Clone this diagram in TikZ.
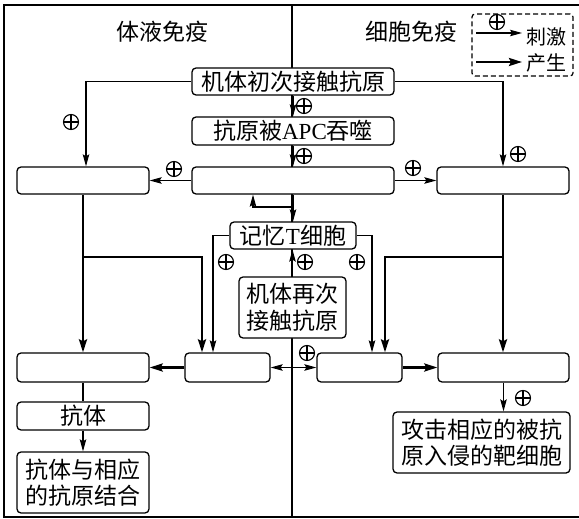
\documentclass[tikz,border=0pt]{standalone}
\usepackage{fontspec}
\setmainfont{Liberation Serif}
\newfontfamily\cjk{Noto Sans CJK SC}
\usetikzlibrary{arrows.meta}
\begin{document}
\begin{tikzpicture}[x=1pt,y=-1pt,
  box/.style={draw, line width=1.3pt, rounded corners=4pt, fill=white, inner sep=0pt,
    font=\fontsize{23}{26.5}\selectfont\cjk, align=center},
  stim/.style={line width=1.1pt, -{Stealth[length=12pt,width=6.5pt,inset=2pt]}},
  prod/.style={line width=2.4pt, -{Stealth[length=13pt,width=8pt,inset=2pt]}},
  plain/.style={line width=1.1pt},
  plus/.style={circle, draw, line width=1.1pt, minimum size=15pt, inner sep=0pt,
    path picture={\draw[line width=1.1pt] (path picture bounding box.north) -- (path picture bounding box.south)
      (path picture bounding box.west) -- (path picture bounding box.east);}},
  ttl/.style={font=\fontsize{23}{27}\selectfont\cjk, inner sep=0pt},
  lgt/.style={font=\fontsize{20}{24}\selectfont\cjk, inner sep=0pt},
]
\useasboundingbox (0,0) rectangle (579,519);
% frame and divider
\draw[line width=1.3pt] (579,5) -- (4,5) -- (4,517) -- (579,517);
\draw[line width=1.1pt] (292,5) -- (292,517);

% titles
\node[ttl] (t1) at (162,32) {体液免疫};
\node[ttl] (t2) at (411,32) {细胞免疫};

% legend
\node[draw, dashed, dash pattern=on 5pt off 3pt, line width=1.2pt, rounded corners=3pt,
  minimum width=101pt, minimum height=62pt, inner sep=0pt] (legend) at (522.5,45) {};
\coordinate (l1a) at (476,33); \coordinate (l1b) at (522,33);
\coordinate (l2a) at (476,62); \coordinate (l2b) at (522,62);
\draw[stim] (l1a) -- (l1b);
\node[plus] (lp) at (497,22) {};
\draw[prod] (l2a) -- (l2b);
\node[lgt] (lt1) at (546,37) {刺激};
\node[lgt] (lt2) at (546,63) {产生};

% boxes
\node[box, minimum width=202pt, minimum height=27pt] (init) at (293,81.5) {机体初次接触抗原};
\node[box, minimum width=202pt, minimum height=28pt] (apc) at (293,131) {抗原被{\rmfamily APC}吞噬};
\node[box, minimum width=202pt, minimum height=27pt] (tc) at (293,180.5) {};
\node[box, minimum width=132pt, minimum height=27pt] (bc) at (83,180.5) {};
\node[box, minimum width=132pt, minimum height=27pt] (rc) at (503,180.5) {};
\node[box, minimum width=126pt, minimum height=27pt] (memt) at (293,235.5) {记忆{\rmfamily T}细胞};
\node[box, minimum width=107pt, minimum height=61pt] (again) at (292.5,307.5) {机体再次\\接触抗原};
\node[box, minimum width=132pt, minimum height=29pt] (plasma) at (83,367.5) {};
\node[box, minimum width=85pt, minimum height=29pt] (memb) at (227.5,367.5) {};
\node[box, minimum width=85pt, minimum height=29pt] (memtc) at (359.5,367.5) {};
\node[box, minimum width=131pt, minimum height=29pt] (eff) at (503.5,367.5) {};
\node[box, minimum width=132pt, minimum height=28pt] (ab) at (83,416) {抗体};
\node[box, minimum width=132pt, minimum height=61pt] (bind) at (83,482.5) {抗体与相应\\的抗原结合};
\node[box, minimum width=177pt, minimum height=61pt] (attack) at (481.5,442.5)
  {攻击相应的被抗\\原入侵的靶细胞};

% stimulation connectors
\draw[stim] (init.west) -| ([xshift=3pt]bc.north);
\node[plus] (p1) at (71,122) {};
\draw[stim] (init.east) -| (rc.north);
\node[plus] (p2) at (518,154) {};
\draw[stim] (init.south) -- (apc.north);
\node[plus] (p3) at (304,106) {};
\draw[stim] (apc.south) -- (tc.north);
\node[plus] (p4) at (304,156) {};
\draw[stim] (tc.west) -- (bc.east);
\node[plus] (p5) at (174,169) {};
\draw[stim] (tc.east) -- (rc.west);
\node[plus] (p6) at (413,168) {};
\draw[stim] (tc.south) -- (memt.north);
\coordinate (j1) at (293,207);
\draw[stim] (j1) -| ([xshift=-40pt]tc.south);
\draw[stim] (memt.west) -| ([xshift=-14.5pt]memb.north);
\node[plus] (p7) at (226,262) {};
\draw[stim] (memt.east) -| ([xshift=12.5pt]memtc.north);
\node[plus] (p8) at (357,262) {};
\draw[stim] (again.north) -- (again.north |- memt.south);
\node[plus] (p9) at (305,262) {};
\coordinate (j2) at (292.5,367.5);
\draw[plain] (again.south) -- (j2);
\draw[stim] (j2) -- (memb.east);
\draw[stim] (j2) -- (memtc.west);
\node[plus] (p10) at (307,353) {};

% production connectors
\draw[prod] (bc.south) -- (plasma.north);
\coordinate (j3) at (83,257);
\draw[prod] (j3) -| ([xshift=-25.5pt]memb.north);
\draw[prod] (rc.south) -- (rc.south |- eff.north);
\coordinate (j4) at (503,257);
\draw[prod] (j4) -| ([xshift=25.5pt]memtc.north);
\draw[prod] (memb.west) -- (plasma.east);
\draw[prod] (memtc.east) -- (eff.west);

% outputs
\draw[plain] (plasma.south) -- (ab.north);
\draw[stim] (ab.south) -- (bind.north);
\draw[stim] (eff.south) -- (eff.south |- attack.north);
\node[plus] (p11) at (523,398) {};
\end{tikzpicture}
\end{document}
